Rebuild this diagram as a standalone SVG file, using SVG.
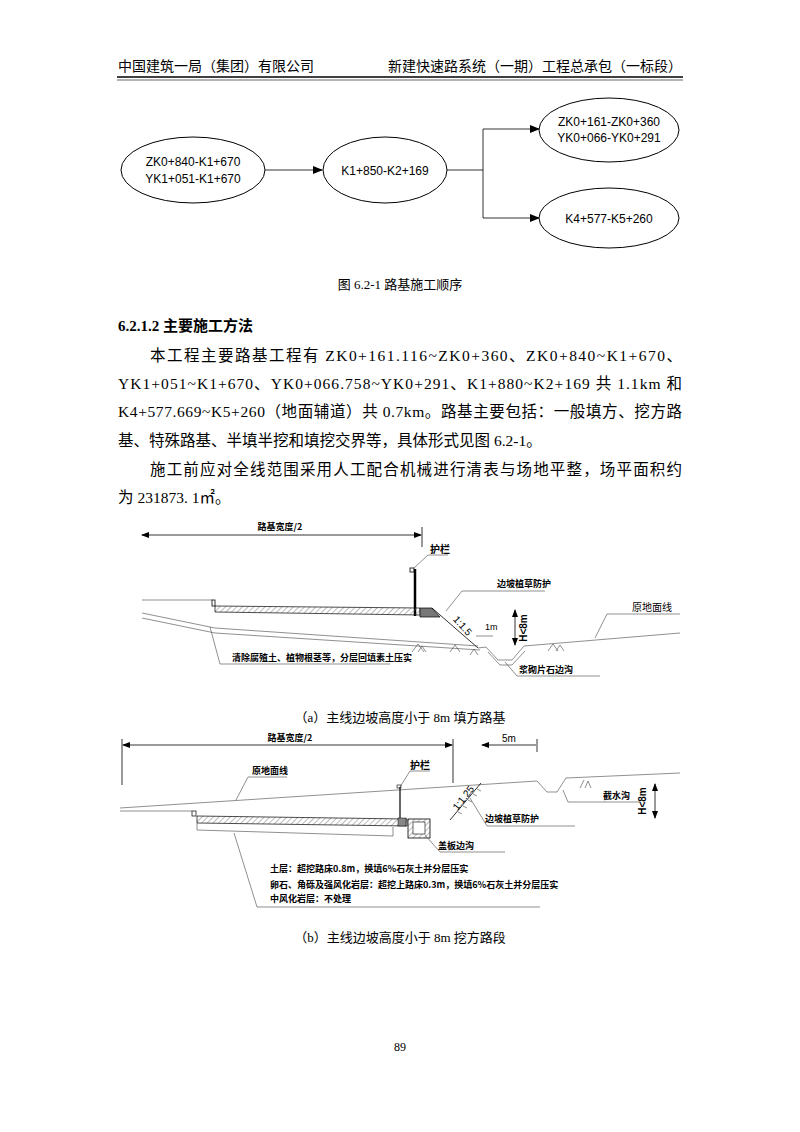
<svg xmlns="http://www.w3.org/2000/svg" width="800" height="1132" viewBox="0 0 800 1132">
<defs>
<marker id="ar" markerWidth="10" markerHeight="8" refX="9" refY="4" orient="auto" markerUnits="userSpaceOnUse"><path d="M0,0 L10,4 L0,8 Z" fill="#000"/></marker>
<marker id="da" markerWidth="8" markerHeight="6" refX="7" refY="3" orient="auto-start-reverse" markerUnits="userSpaceOnUse"><path d="M0,0 L8,3 L0,6 Z" fill="#000"/></marker>
<pattern id="hatch" width="4" height="4" patternUnits="userSpaceOnUse" patternTransform="rotate(45)"><line x1="0" y1="0" x2="0" y2="4" stroke="#777" stroke-width="1"/></pattern>
</defs>
<style>
.t{font-family:"Liberation Serif","Noto Sans CJK SC",serif;fill:#000}
.s{font-family:"Liberation Sans","Noto Sans CJK SC",sans-serif;fill:#000}
.d{font-family:"Noto Sans CJK SC",sans-serif;fill:#000;font-weight:bold}
.ln{stroke:#000;fill:none;stroke-width:0.8}
.lg{stroke:#444;fill:none;stroke-width:0.6}
.nd{fill:#fff;stroke:#000;stroke-width:1}
</style>
<rect width="800" height="1132" fill="#fff"/>
<text class="t" x="118" y="71" font-size="14">中国建筑一局（集团）有限公司</text>
<text class="t" x="682" y="71" font-size="14" text-anchor="end">新建快速路系统（一期）工程总承包（一标段）</text>
<line x1="117" y1="77" x2="683" y2="77" stroke="#000" stroke-width="1.6"/>
<line x1="117" y1="80" x2="683" y2="80" stroke="#000" stroke-width="0.6"/>

<g id="connectors">
<line class="ln" x1="265" y1="170" x2="322" y2="170" stroke-width="1" marker-end="url(#ar)"/>
<polyline class="ln" stroke-width="1" points="447,170 483,170"/>
<line class="ln" stroke-width="1" x1="483" y1="129" x2="483" y2="218"/>
<line class="ln" stroke-width="1" x1="483" y1="129" x2="539" y2="129" marker-end="url(#ar)"/>
<line class="ln" stroke-width="1" x1="483" y1="218" x2="539" y2="218" marker-end="url(#ar)"/>
</g>
<g id="n1"><ellipse class="nd" cx="193" cy="170" rx="72" ry="33"/><text class="s" x="193" y="166" font-size="12" text-anchor="middle">ZK0+840-K1+670</text><text class="s" x="193" y="183" font-size="12" text-anchor="middle">YK1+051-K1+670</text></g>
<g id="n2"><ellipse class="nd" cx="385" cy="170" rx="62" ry="33"/><text class="s" x="385" y="175" font-size="12" text-anchor="middle">K1+850-K2+169</text></g>
<g id="n3"><ellipse class="nd" cx="609" cy="130" rx="70" ry="32"/><text class="s" x="609" y="126" font-size="12" text-anchor="middle">ZK0+161-ZK0+360</text><text class="s" x="609" y="142" font-size="12" text-anchor="middle">YK0+066-YK0+291</text></g>
<g id="n4"><ellipse class="nd" cx="609" cy="218" rx="70" ry="30"/><text class="s" x="609" y="223" font-size="12" text-anchor="middle">K4+577-K5+260</text></g>

<text class="t" x="400" y="289" font-size="13" text-anchor="middle">图 6.2-1 路基施工顺序</text>
<text class="t" x="118" y="331" font-size="15" font-weight="bold">6.2.1.2 主要施工方法</text>
<text class="t" x="150" y="361" font-size="15.5" textLength="532" lengthAdjust="spacing">本工程主要路基工程有 ZK0+161.116~ZK0+360、ZK0+840~K1+670、</text>
<text class="t" x="118" y="389" font-size="15.5" textLength="564" lengthAdjust="spacing">YK1+051~K1+670、YK0+066.758~YK0+291、K1+880~K2+169 共 1.1km 和</text>
<text class="t" x="118" y="417" font-size="15.5" textLength="564" lengthAdjust="spacing">K4+577.669~K5+260（地面辅道）共 0.7km。路基主要包括：一般填方、挖方路</text>
<text class="t" x="118" y="446" font-size="15.5">基、特殊路基、半填半挖和填挖交界等，具体形式见图 6.2-1。</text>
<text class="t" x="150" y="475" font-size="15.5" textLength="532" lengthAdjust="spacing">施工前应对全线范围采用人工配合机械进行清表与场地平整，场平面积约</text>
<text class="t" x="118" y="503" font-size="15.5">为 231873. 1㎡。</text>

<!-- figure a -->
<g id="figa">
<line class="ln" x1="142" y1="535" x2="421" y2="535" marker-start="url(#da)" marker-end="url(#da)"/>
<line class="ln" x1="422" y1="527" x2="422" y2="547"/>
<text class="d" x="280" y="530" font-size="9" text-anchor="middle">路基宽度/2</text>
<line x1="415" y1="569" x2="415" y2="616" stroke="#000" stroke-width="2.5"/>
<rect x="410" y="568" width="4" height="4" fill="none" stroke="#000" stroke-width="0.8"/>
<polyline class="lg" points="414,568 428,555 448,555"/>
<text class="d" x="430" y="553" font-size="10">护栏</text>
<line class="lg" x1="142" y1="600" x2="212" y2="600"/>
<rect x="212" y="600" width="3" height="6" fill="none" stroke="#000" stroke-width="0.8"/>
<polygon points="215,606 420,608 420,615 215,612" fill="url(#hatch)" stroke="#000" stroke-width="0.7"/>
<polygon points="420,608 432,608 440,617 420,617" fill="#777" stroke="#000" stroke-width="0.7"/>
<line class="ln" x1="432" y1="608" x2="478" y2="648"/>
<polyline class="lg" points="142,613 215,628 478,646"/>
<polyline class="lg" points="142,618 215,633 480,650"/>
<polyline class="lg" points="478,648 486,647 498,660 512,660 524,646 680,633"/>
<polyline class="lg" points="488,652 500,665 512,665 525,651"/>
<line class="ln" x1="515" y1="610" x2="515" y2="645" marker-start="url(#da)" marker-end="url(#da)"/>
<text class="s" x="527" y="628" font-size="10" font-weight="bold" text-anchor="middle" transform="rotate(-90 527 628)">H&lt;8m</text>
<text class="s" x="460" y="628" font-size="10" text-anchor="middle" transform="rotate(48 460 628)">1:1.5</text>
<text class="s" x="485" y="630" font-size="9">1m</text>
<line class="lg" x1="476" y1="636" x2="493" y2="636"/>
<polyline class="lg" points="446,611 462,591 545,591"/>
<text class="d" x="497" y="587" font-size="9">边坡植草防护</text>
<polyline class="lg" points="595,638 607,614 680,614"/>
<text class="s" x="632" y="611" font-size="10" fill="#333">原地面线</text>
<polyline class="lg" points="210,627 220,664 390,664"/>
<text class="d" x="232" y="661" font-size="9">清除腐殖土、植物根茎等，分层回填素土压实</text>
<polyline class="lg" points="505,662 517,676 600,676"/>
<text class="d" x="519" y="673" font-size="9">浆砌片石边沟</text>
<path class="lg" d="M412,652 l6,-8 l6,8 M418,652 l4,-6 l4,6 M450,652 l5,-7 l5,7 M470,655 l4,-6 l4,6 M548,651 l5,-7 l5,7 M556,651 l4,-6 l4,6"/>
</g>
<text class="t" x="400" y="722" font-size="13" text-anchor="middle">（a）主线边坡高度小于 8m 填方路基</text>

<!-- figure b -->
<g id="figb">
<line class="ln" x1="123" y1="745" x2="452" y2="745" marker-start="url(#da)" marker-end="url(#da)"/>
<line class="ln" x1="122" y1="739" x2="122" y2="785"/>
<line class="ln" x1="453" y1="739" x2="453" y2="783"/>
<text class="d" x="290" y="741" font-size="9" text-anchor="middle">路基宽度/2</text>
<line class="ln" x1="482" y1="745" x2="536" y2="745" marker-start="url(#da)"/>
<line class="ln" x1="537" y1="739" x2="537" y2="752"/>
<text class="s" x="509" y="742" font-size="10" text-anchor="middle">5m</text>
<polyline class="lg" points="120,808 537,781 547,792 557,792 566,778 680,773"/>
<polyline class="lg" points="236,800 248,777 287,777"/>
<text class="d" x="252" y="774" font-size="9">原地面线</text>
<line class="lg" x1="120" y1="811" x2="192" y2="811"/>
<rect x="192" y="811" width="4" height="5" fill="none" stroke="#000" stroke-width="0.7"/>
<polygon points="197,816 407,819 407,826 197,823" fill="url(#hatch)" stroke="#000" stroke-width="0.7"/>
<polyline class="lg" points="197,823 197,830 393,836 393,827"/>
<line x1="400" y1="787" x2="400" y2="818" stroke="#000" stroke-width="1.2"/>
<rect x="397" y="785" width="4" height="3" fill="none" stroke="#000" stroke-width="0.6"/>
<polyline class="lg" points="400,787 410,771 430,771"/>
<text class="d" x="410" y="769" font-size="10">护栏</text>
<rect x="398" y="818" width="8" height="8" fill="#888" stroke="#000" stroke-width="0.5"/>
<rect x="408" y="819" width="22" height="19" fill="url(#hatch)" stroke="#000" stroke-width="0.8"/>
<rect x="413" y="822" width="12" height="12" fill="#fff" stroke="#000" stroke-width="0.6"/>
<line class="ln" x1="450" y1="820" x2="481" y2="783"/>
<path class="lg" d="M458,812 l4,2 M463,806 l4,2 M468,800 l4,2 M473,794 l4,2 M477,789 l4,2"/>
<text class="s" x="466" y="800" font-size="10" text-anchor="middle" transform="rotate(-52 466 800)">1:1.25</text>
<polyline class="lg" points="470,798 487,826 575,826"/>
<text class="d" x="485" y="822" font-size="9">边坡植草防护</text>
<polyline class="lg" points="563,790 568,802 640,802"/>
<text class="d" x="603" y="799" font-size="9">截水沟</text>
<path class="lg" d="M580,788 l4,-8 M585,788 l3,-7 l3,7"/>
<line class="ln" x1="655" y1="784" x2="655" y2="818" marker-start="url(#da)" marker-end="url(#da)"/>
<text class="s" x="646" y="801" font-size="10" font-weight="bold" text-anchor="middle" transform="rotate(-90 646 801)">H&lt;8m</text>
<polyline class="lg" points="425,835 440,852 505,852"/>
<text class="d" x="438" y="849" font-size="9">盖板边沟</text>
<polyline class="lg" points="234,833 257,907 540,907"/>
<text class="d" x="270" y="872" font-size="9">土层：超挖路床0.8m，换填6%石灰土并分层压实</text>
<text class="d" x="270" y="888" font-size="9">卵石、角砾及强风化岩层：超挖上路床0.3m，换填6%石灰土并分层压实</text>
<text class="d" x="270" y="902" font-size="9">中风化岩层：不处理</text>
</g>
<text class="t" x="400" y="942" font-size="13" text-anchor="middle">（b）主线边坡高度小于 8m 挖方路段</text>
<text class="t" x="400" y="1051" font-size="12" text-anchor="middle">89</text>
</svg>
